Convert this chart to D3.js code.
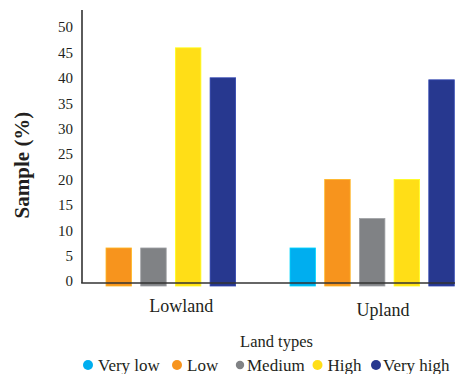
<!DOCTYPE html>
<html>
<head>
<meta charset="utf-8">
<script src="https://cdn.jsdelivr.net/npm/d3@7"></script>
<style>
  html, body { margin: 0; padding: 0; background: #fff; }
  svg { display: block; }
  text { font-family: "Liberation Serif", "DejaVu Serif", serif; fill: #231f20; }
</style>
</head>
<body>
<div id="chart"></div>
<script>
// Land types and suitability levels
const groups = ["Lowland", "Upland"];
const levels = ["Very low", "Low", "Medium", "High", "Very high"];
const colors = ["#00aeef", "#f7941d", "#808285", "#ffde17", "#27388f"];

// Share of sample (%) per suitability level
const lowland = [0, 6.5, 6.5, 45.9, 40.0];
const upland = [6.5, 20.0, 12.3, 20.0, 39.6];
const yTicks = [0, 5, 10, 15, 20, 25, 30, 35, 40, 45, 50];

const width = 455, height = 374;
const svg = d3.select("#chart").append("svg")
  .attr("width", width).attr("height", height);

const y = d3.scaleLinear().domain([0, 50]).range([281, 27]);

const x0 = d3.scaleBand().domain(groups).range([71.3, 71.3 + 2 * 218.7]);
const x1 = d3.scaleBand().domain(levels).range([0, 164.3]).paddingInner(0.265);
const color = d3.scaleOrdinal().domain(levels).range(colors);

const table = groups.map((g, i) => ({
  group: g,
  values: levels.map((l, j) => ({ level: l, value: [lowland, upland][i][j] }))
}));

// Bars
svg.append("g").selectAll("g")
  .data(table).join("g")
  .attr("transform", d => `translate(${x0(d.group)},0)`)
  .selectAll("rect")
  .data(d => d.values.filter(v => v.value > 0)).join("rect")
  .attr("x", d => x1(d.level))
  .attr("y", d => y(d.value))
  .attr("width", x1.bandwidth())
  .attr("height", d => y(0) - y(d.value) + 5)
  .attr("fill", d => color(d.level))
  .attr("stroke", d => d3.color(color(d.level)).brighter(0.6))
  .attr("stroke-width", 0.8);

// Y axis
const yAxis = svg.append("g")
  .attr("transform", "translate(82,0)")
  .call(d3.axisLeft(y).tickValues(yTicks).tickSize(0).tickPadding(9))
  .attr("font-family", "Liberation Serif")
  .attr("font-size", 15);
yAxis.select(".domain").remove();
yAxis.selectAll("text").attr("fill", "#231f20");

svg.append("line")
  .attr("x1", 82).attr("x2", 82)
  .attr("y1", 10).attr("y2", y(0) + 2)
  .attr("stroke", "#333").attr("stroke-width", 1.6);

// Baseline
svg.append("line")
  .attr("x1", 81.2).attr("x2", width)
  .attr("y1", y(0) + 2).attr("y2", y(0) + 2)
  .attr("stroke", "#333").attr("stroke-width", 1.6);

// Axis titles
svg.append("text")
  .attr("transform", "translate(29,165) rotate(-90)")
  .attr("text-anchor", "middle")
  .style("font-size", "21px")
  .style("font-weight", "bold")
  .text("Sample (%)");

// Group labels
const groupLabelOffset = { Lowland: [110, 312], Upland: [93, 316] };
svg.append("g").selectAll("text")
  .data(groups).join("text")
  .attr("x", d => x0(d) + groupLabelOffset[d][0])
  .attr("y", d => groupLabelOffset[d][1])
  .attr("text-anchor", "middle")
  .style("font-size", "18px")
  .text(d => d);

svg.append("text")
  .attr("x", 276.5).attr("y", 347)
  .attr("text-anchor", "middle")
  .style("font-size", "16.5px")
  .text("Land types");

// Legend
const legendX = [88, 177, 240, 317.5, 376];
const legend = svg.append("g").selectAll("g")
  .data(levels).join("g")
  .attr("transform", (d, i) => `translate(${legendX[i]},365)`);
legend.append("circle")
  .attr("r", d => d === "Medium" ? 4.2 : 5)
  .attr("fill", d => color(d));
legend.append("text")
  .attr("x", d => d === "Medium" ? 7 : (d === "Very high" ? 7 : 10))
  .attr("y", 6)
  .style("font-size", "17px")
  .text(d => d);
</script>
</body>
</html>
